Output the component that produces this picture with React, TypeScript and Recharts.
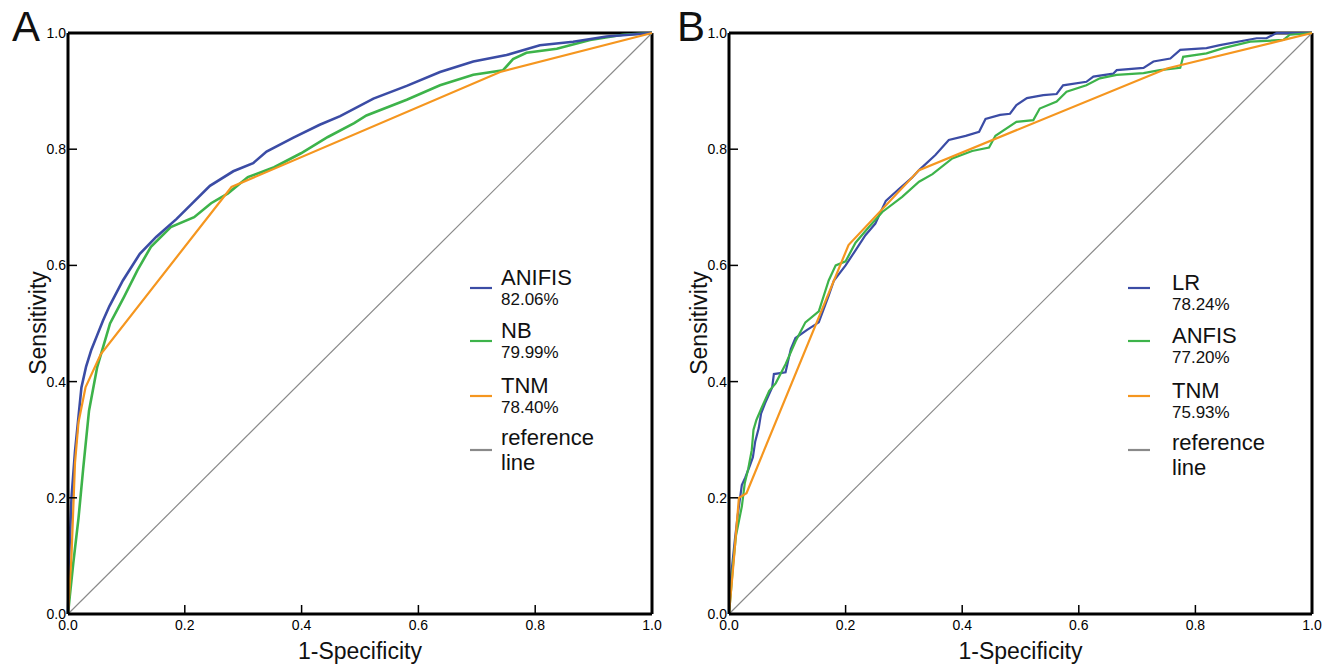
import React from 'react';
import { LineChart, Line, XAxis, YAxis, ReferenceLine, Legend } from 'recharts';

type Pt = [number, number];

const FONT = 'Arial, "Liberation Sans", Helvetica, sans-serif';
const BLUE = '#3b4ca5';
const GREEN = '#3db34a';
const ORANGE = '#f5961f';
const GRAY = '#8a8a8a';

const axisTicks = [0, 0.2, 0.4, 0.6, 0.8, 1];
const tickLabels = ['0.0', '0.2', '0.4', '0.6', '0.8', '1.0'];

const diagonal: Pt[] = [[0, 0], [1, 1]];

// panel A (1-specificity, sensitivity)
const anifisA: Pt[] = [
  [0, 0], [0.002, 0.1], [0.006, 0.2], [0.012, 0.28], [0.017, 0.33], [0.023, 0.39],
  [0.031, 0.426], [0.04, 0.455], [0.05, 0.48], [0.06, 0.505], [0.071, 0.53], [0.094, 0.574],
  [0.123, 0.62], [0.151, 0.649], [0.186, 0.68], [0.214, 0.708], [0.243, 0.737], [0.283, 0.762],
  [0.317, 0.776], [0.34, 0.796], [0.386, 0.82], [0.431, 0.842], [0.466, 0.857], [0.523, 0.887],
  [0.58, 0.909], [0.637, 0.933], [0.694, 0.951], [0.751, 0.962], [0.808, 0.979], [0.865, 0.985],
  [0.922, 0.994], [1, 1],
];
const nbA: Pt[] = [
  [0, 0], [0.003, 0.03], [0.009, 0.087], [0.018, 0.165], [0.026, 0.25], [0.036, 0.35],
  [0.05, 0.425], [0.072, 0.5], [0.096, 0.546], [0.119, 0.592], [0.142, 0.632], [0.176, 0.666],
  [0.216, 0.683], [0.245, 0.707], [0.274, 0.724], [0.308, 0.752], [0.353, 0.769], [0.399, 0.793],
  [0.445, 0.821], [0.49, 0.845], [0.511, 0.858], [0.58, 0.885], [0.637, 0.91], [0.694, 0.928],
  [0.745, 0.936], [0.762, 0.955], [0.785, 0.966], [0.837, 0.973], [0.894, 0.988], [0.95, 0.997],
  [1, 1],
];
const tnmA: Pt[] = [
  [0, 0], [0.006, 0.1], [0.012, 0.26], [0.018, 0.33], [0.03, 0.39], [0.056, 0.447],
  [0.28, 0.735], [0.74, 0.933], [1, 1],
];

// panel B
const lrB: Pt[] = [
  [0, 0], [0.004, 0.07], [0.01, 0.127], [0.015, 0.17], [0.019, 0.2], [0.022, 0.222],
  [0.028, 0.235], [0.036, 0.256], [0.041, 0.27], [0.045, 0.297], [0.051, 0.32], [0.055, 0.345],
  [0.062, 0.363], [0.074, 0.39], [0.077, 0.413], [0.097, 0.416], [0.106, 0.456], [0.114, 0.475],
  [0.134, 0.489], [0.154, 0.502], [0.171, 0.548], [0.18, 0.574], [0.2, 0.6], [0.217, 0.626],
  [0.234, 0.652], [0.251, 0.672], [0.269, 0.711], [0.291, 0.731], [0.314, 0.751], [0.326, 0.764],
  [0.354, 0.79], [0.377, 0.816], [0.406, 0.823], [0.429, 0.83], [0.44, 0.852], [0.465, 0.859],
  [0.482, 0.861], [0.493, 0.876], [0.511, 0.888], [0.539, 0.893], [0.562, 0.895], [0.573, 0.91],
  [0.613, 0.916], [0.625, 0.925], [0.659, 0.93], [0.665, 0.936], [0.711, 0.94], [0.728, 0.951],
  [0.757, 0.956], [0.774, 0.971], [0.819, 0.974], [0.842, 0.979], [0.905, 0.991], [0.922, 0.991],
  [0.939, 1], [1, 1],
];
const anfisB: Pt[] = [
  [0, 0], [0.003, 0.035], [0.007, 0.085], [0.012, 0.135], [0.022, 0.185], [0.027, 0.225],
  [0.033, 0.25], [0.039, 0.282], [0.042, 0.317], [0.047, 0.334], [0.056, 0.355], [0.069, 0.384],
  [0.08, 0.397], [0.097, 0.43], [0.114, 0.469], [0.131, 0.502], [0.154, 0.521], [0.171, 0.574],
  [0.183, 0.6], [0.2, 0.607], [0.217, 0.639], [0.24, 0.666], [0.263, 0.692], [0.297, 0.718],
  [0.326, 0.744], [0.349, 0.757], [0.383, 0.784], [0.417, 0.797], [0.446, 0.803], [0.457, 0.823],
  [0.493, 0.847], [0.522, 0.85], [0.533, 0.87], [0.562, 0.882], [0.579, 0.899], [0.613, 0.91],
  [0.636, 0.922], [0.665, 0.928], [0.711, 0.931], [0.739, 0.936], [0.774, 0.94], [0.779, 0.959],
  [0.819, 0.965], [0.848, 0.974], [0.894, 0.985], [0.951, 0.988], [0.962, 0.997], [1, 1],
];
const tnmB: Pt[] = [
  [0, 0], [0.008, 0.09], [0.017, 0.2], [0.03, 0.208], [0.205, 0.635], [0.326, 0.764],
  [0.751, 0.939], [1, 1],
];

const namesA = [['ANIFIS'], ['NB'], ['TNM'], ['reference', 'line']];
const aucA = ['82.06%', '79.99%', '78.40%', ''];
const namesB = [['LR'], ['ANFIS'], ['TNM'], ['reference', 'line']];
const aucB = ['78.24%', '77.20%', '75.93%', ''];
const legendColors = [BLUE, GREEN, ORANGE, GRAY];

const toRows = (pts: Pt[]) => pts.map(([fpr, tpr]) => ({ fpr, tpr }));
const fmt = (v: number) => tickLabels[axisTicks.indexOf(v)] ?? v.toFixed(1);

// legend row line positions inside the legend box (box top = 250)
const LEG_TOP = 250;
const legendRows = [38, 91, 146, 200];

function RocLegend({ names, aucs, lineX, textX, dy }: any) {
  return (
    <svg width={210} height={240} style={{ display: 'block', overflow: 'visible' }}>
      {names.map((nm: string[], i: number) => {
        const ly = legendRows[i];
        return (
          <g key={i} fontFamily={FONT} fill="#111">
            <line x1={lineX} x2={lineX + 22} y1={ly} y2={ly} stroke={legendColors[i]} strokeWidth={2.2} />
            {nm.length === 1 ? (
              <>
                <text x={textX} y={ly - 3 + dy} fontSize={22}>{nm[0]}</text>
                <text x={textX} y={ly + 17 + dy} fontSize={17}>{aucs[i]}</text>
              </>
            ) : (
              <>
                <text x={textX} y={ly - 5 + dy} fontSize={22}>{nm[0]}</text>
                <text x={textX} y={ly + 20 + dy} fontSize={22}>{nm[1]}</text>
              </>
            )}
          </g>
        );
      })}
    </svg>
  );
}

function XTitle({ cx }: any) {
  return (
    <text x={cx} y={659} textAnchor="middle" fontSize={23} fill="#111" fontFamily={FONT}>
      1-Specificity
    </text>
  );
}

function YTitle({ bx }: any) {
  return (
    <text
      x={bx}
      y={323}
      transform={`rotate(-90, ${bx}, 323)`}
      textAnchor="middle"
      fontSize={23}
      fill="#111"
      fontFamily={FONT}
    >
      Sensitivity
    </text>
  );
}

function RocPanel({ letter, left, width, plotLeft, right, curves, names, aucs, legendLeft, lineX, textX, dy }: any) {
  const plotW = width - right - plotLeft;
  return (
    <div style={{ position: 'absolute', left, top: 0, width, height: 668 }}>
      <LineChart width={width} height={668} margin={{ top: 33, right, bottom: 0, left: 0 }}>
        <XAxis
          type="number"
          dataKey="fpr"
          domain={[0, 1]}
          ticks={axisTicks}
          interval={0}
          tickFormatter={fmt}
          height={54}
          axisLine={{ stroke: '#000', strokeWidth: 3 }}
          tickLine={{ stroke: '#000', strokeWidth: 1.5 }}
          tickSize={-9}
          tickMargin={15}
          tick={{ fill: '#000', fontSize: 14, fontFamily: FONT }}
          label={<XTitle cx={plotLeft + plotW / 2} />}
        />
        <YAxis
          type="number"
          dataKey="tpr"
          domain={[0, 1]}
          ticks={axisTicks}
          interval={0}
          tickFormatter={fmt}
          width={plotLeft}
          axisLine={{ stroke: '#000', strokeWidth: 3 }}
          tickLine={{ stroke: '#000', strokeWidth: 1.5 }}
          tickSize={-9}
          tickMargin={11}
          tick={{ fill: '#000', fontSize: 14, fontFamily: FONT }}
          label={<YTitle bx={plotLeft - 22} />}
        />
        <ReferenceLine y={1} stroke="#000" strokeWidth={3} />
        <ReferenceLine x={1} stroke="#000" strokeWidth={3} />
        <Line
          data={toRows(diagonal)}
          dataKey="tpr"
          type="linear"
          stroke={GRAY}
          strokeWidth={1.2}
          dot={false}
          isAnimationActive={false}
        />
        {curves.map((c: any) => (
          <Line
            key={c.name}
            name={c.name}
            data={toRows(c.pts)}
            dataKey="tpr"
            type="linear"
            stroke={c.color}
            strokeWidth={c.width}
            dot={false}
            isAnimationActive={false}
          />
        ))}
        <Legend
          layout="vertical"
          align="center"
          verticalAlign="middle"
          wrapperStyle={{ left: legendLeft, top: LEG_TOP, width: 210, height: 240 }}
          content={() => <RocLegend names={names} aucs={aucs} lineX={lineX} textX={textX} dy={dy} />}
        />
      </LineChart>
      <div
        style={{
          position: 'absolute',
          left: letter === 'A' ? 12 : 14,
          top: 6,
          fontSize: 42,
          lineHeight: '42px',
          color: '#111',
          fontFamily: FONT,
        }}
      >
        {letter}
      </div>
    </div>
  );
}

export default function App() {
  return (
    <div
      style={{
        position: 'absolute',
        left: 0,
        top: 0,
        width: 1331,
        height: 668,
        background: '#fff',
        fontFamily: FONT,
        overflow: 'hidden',
      }}
    >
      <RocPanel
        letter="A"
        left={0}
        width={665}
        plotLeft={68}
        right={13}
        curves={[
          { name: 'NB', pts: nbA, color: GREEN, width: 2.6 },
          { name: 'ANIFIS', pts: anifisA, color: BLUE, width: 2.6 },
          { name: 'TNM', pts: tnmA, color: ORANGE, width: 2.2 },
        ]}
        names={namesA}
        aucs={aucA}
        legendLeft={455}
        lineX={15}
        textX={46}
        dy={0}
      />
      <RocPanel
        letter="B"
        left={663}
        width={668}
        plotLeft={66}
        right={19}
        curves={[
          { name: 'LR', pts: lrB, color: BLUE, width: 2.2 },
          { name: 'ANFIS', pts: anfisB, color: GREEN, width: 2.2 },
          { name: 'TNM', pts: tnmB, color: ORANGE, width: 2.2 },
        ]}
        names={namesB}
        aucs={aucB}
        legendLeft={455}
        lineX={10}
        textX={54}
        dy={5}
      />
    </div>
  );
}
